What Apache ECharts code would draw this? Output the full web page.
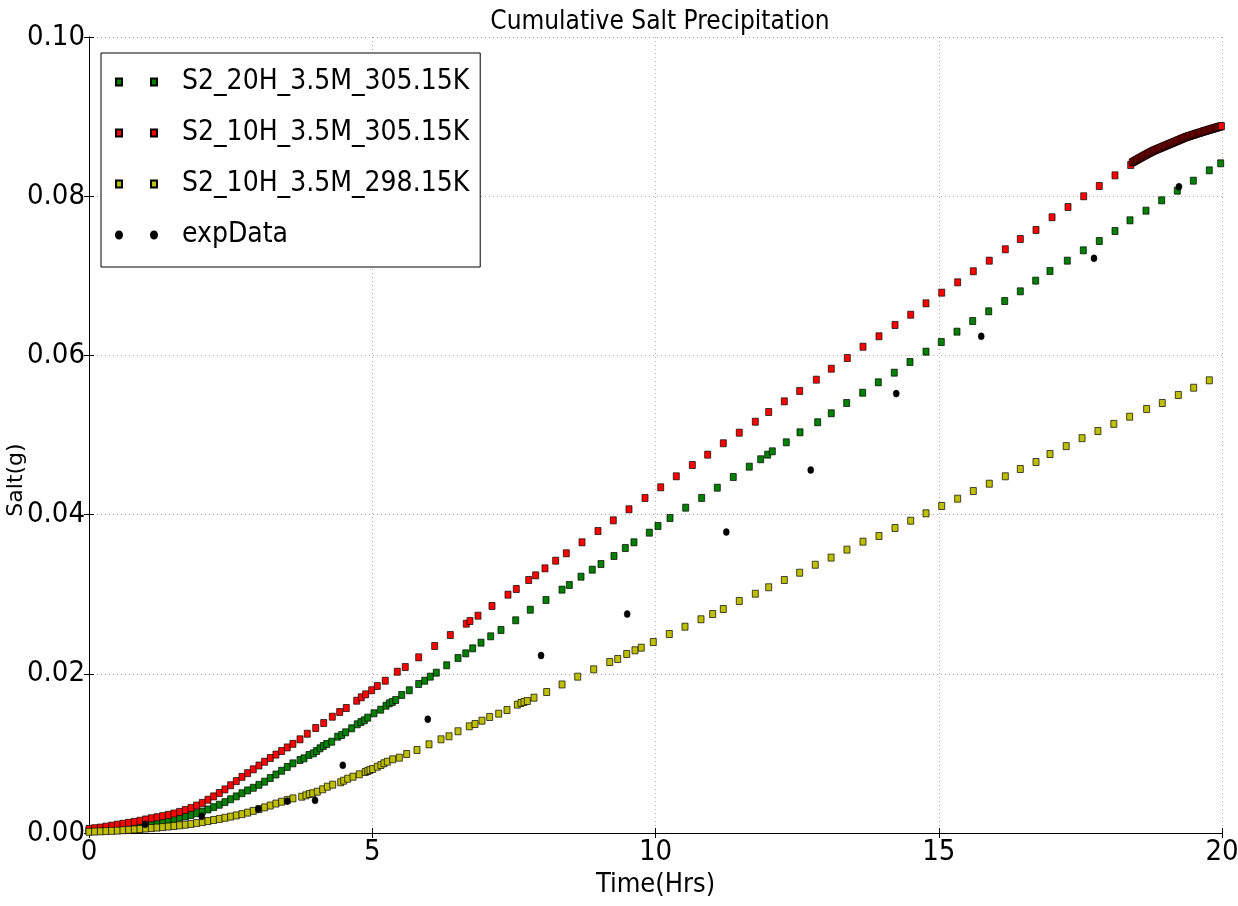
<!DOCTYPE html>
<html>
<head>
<meta charset="utf-8">
<script src="https://cdn.jsdelivr.net/npm/echarts@6/dist/echarts.min.js"></script>
<style>
html,body{margin:0;padding:0;background:#fff;}
#chart{width:1238px;height:906px;}
</style>
</head>
<body>
<div id="chart"></div>
<script>
// ---- data: [time (hrs), salt (g)] ----
const seriesNames = ['S2_20H_3.5M_305.15K', 'S2_10H_3.5M_305.15K', 'S2_10H_3.5M_298.15K', 'expData'];
const xTickLabels = ['0', '5', '10', '15', '20'];
const yTickLabels = ['0.00', '0.02', '0.04', '0.06', '0.08', '0.10'];

const green20H = [
[0.0,0.00030],[0.1,0.00036],[0.2,0.00044],[0.3,0.00052],[0.4,0.00060],[0.5,0.00070],[0.6,0.00078],[0.7,0.00086],[0.8,0.00095],[0.9,0.00104],
[1.0,0.00113],[1.1,0.00122],[1.2,0.00135],[1.3,0.00148],[1.4,0.00163],[1.5,0.00178],[1.6,0.00193],[1.7,0.00208],[1.8,0.00226],[1.9,0.00248],
[2.0,0.00270],[2.1,0.00296],[2.2,0.00325],[2.3,0.00355],[2.4,0.00388],[2.5,0.00424],[2.6,0.00460],[2.7,0.00500],[2.8,0.00535],[2.9,0.00568],
[3.0,0.00605],[3.1,0.00645],[3.2,0.00690],[3.3,0.00735],[3.4,0.00782],[3.5,0.00830],[3.6,0.00875],
[3.725,0.00917],[3.795,0.00938],[3.883,0.00980],[3.960,0.01001],[4.019,0.01030],[4.078,0.01064],[4.136,0.01093],[4.196,0.01118],
[4.284,0.01147],[4.390,0.01210],[4.461,0.01231],[4.531,0.01265],[4.637,0.01315],[4.736,0.01366],[4.801,0.01394],[4.860,0.01416],
[4.920,0.01449],[5.031,0.01504],[5.149,0.01549],[5.243,0.01599],[5.301,0.01629],[5.354,0.01646],[5.414,0.01671],[5.520,0.01734],
[5.654,0.01793],[5.820,0.01872],[5.926,0.01913],[6.025,0.01964],[6.131,0.02014],[6.314,0.02107],[6.514,0.02198],[6.650,0.02257],
[6.773,0.02320],[6.920,0.02391],[7.091,0.02471],[7.273,0.02550],[7.532,0.02672],[7.790,0.02805],[8.067,0.02927],
[8.350,0.03057],[8.479,0.03116],[8.685,0.03220],[8.884,0.03308],[9.038,0.03379],[9.267,0.03480],[9.467,0.03580],[9.620,0.03652],
[9.891,0.03773],[10.044,0.03857],[10.256,0.03957],[10.533,0.04087],[10.815,0.04209],[11.091,0.04338],[11.373,0.04472],[11.656,0.04602],
[11.857,0.04695],[11.980,0.04753],[12.062,0.04795],[12.309,0.04908],[12.551,0.05034],
[12.863,0.05160],[13.103,0.05273],[13.375,0.05402],[13.657,0.05531],[13.933,0.05662],[14.215,0.05783],[14.492,0.05917],[14.775,0.06047],
[15.045,0.06168],[15.322,0.06298],[15.599,0.06432],[15.882,0.06554],[16.164,0.06683],[16.440,0.06805],[16.711,0.06939],[16.964,0.07060],
[17.269,0.07190],[17.552,0.07320],[17.834,0.07437],[18.111,0.07563],[18.376,0.07697],[18.658,0.07818],[18.935,0.07948],[19.211,0.08069],
[19.494,0.08195],[19.776,0.08325],[19.977,0.08413]
];

const red10H305 = [
[0.0,0.00050],[0.1,0.00060],[0.2,0.00068],[0.3,0.00080],[0.4,0.00092],[0.5,0.00105],[0.6,0.00116],[0.7,0.00128],[0.8,0.00140],[0.9,0.00154],
[1.0,0.00170],[1.1,0.00185],[1.2,0.00198],[1.3,0.00212],[1.4,0.00228],[1.5,0.00245],[1.6,0.00265],[1.7,0.00288],[1.8,0.00315],[1.9,0.00345],
[2.0,0.00378],[2.1,0.00418],[2.2,0.00460],[2.3,0.00502],[2.4,0.00548],[2.5,0.00600],[2.6,0.00652],[2.7,0.00705],[2.8,0.00752],[2.9,0.00800],
[3.0,0.00848],[3.1,0.00895],[3.2,0.00942],[3.3,0.00985],[3.4,0.01030],[3.5,0.01075],[3.6,0.01120],
[3.725,0.01177],[3.853,0.01247],[4.002,0.01319],[4.143,0.01382],[4.295,0.01461],[4.425,0.01520],[4.542,0.01570],[4.726,0.01662],
[4.807,0.01705],[4.884,0.01742],[4.990,0.01793],[5.089,0.01847],[5.230,0.01913],[5.442,0.02026],[5.583,0.02085],[5.820,0.02207],
[6.102,0.02349],[6.378,0.02487],[6.660,0.02629],[6.725,0.02663],[6.867,0.02730],[7.114,0.02852],[7.396,0.02994],[7.543,0.03065],
[7.762,0.03178],[7.885,0.03237],[8.049,0.03325],
[8.238,0.03421],[8.426,0.03514],[8.703,0.03652],[8.985,0.03794],[9.255,0.03928],[9.532,0.04067],[9.815,0.04209],[10.092,0.04343],
[10.367,0.04481],[10.650,0.04623],[10.921,0.04753],[11.197,0.04896],[11.479,0.05029],[11.762,0.05167],[11.998,0.05289],[12.274,0.05423],
[12.545,0.05553],
[12.839,0.05695],[13.103,0.05833],[13.386,0.05967],[13.663,0.06109],[13.945,0.06240],[14.228,0.06382],[14.505,0.06511],[14.775,0.06654],
[15.052,0.06788],[15.334,0.06918],[15.610,0.07057],[15.892,0.07190],[16.175,0.07333],[16.440,0.07462],[16.717,0.07576],
[17.000,0.07735],[17.282,0.07864],[17.559,0.07999],[17.834,0.08128],[18.111,0.08262],[18.388,0.08392],
[18.415,0.08424],[18.430,0.08430],[18.445,0.08437],[18.460,0.08443],[18.475,0.08449],[18.490,0.08455],[18.505,0.08461],[18.520,0.08467],
[18.535,0.08473],[18.550,0.08479],[18.565,0.08485],[18.580,0.08491],[18.595,0.08497],[18.610,0.08503],[18.625,0.08509],[18.640,0.08515],
[18.655,0.08520],[18.670,0.08526],[18.685,0.08532],[18.700,0.08538],[18.715,0.08543],[18.730,0.08549],[18.745,0.08554],[18.760,0.08560],
[18.775,0.08565],[18.790,0.08571],[18.805,0.08575],[18.820,0.08580],[18.835,0.08584],[18.850,0.08589],[18.865,0.08593],[18.880,0.08598],
[18.895,0.08602],[18.910,0.08607],[18.925,0.08611],[18.940,0.08616],[18.955,0.08620],[18.970,0.08625],[18.985,0.08629],[19.000,0.08634],
[19.015,0.08638],[19.030,0.08643],[19.045,0.08647],[19.060,0.08652],[19.075,0.08656],[19.090,0.08661],[19.105,0.08665],[19.120,0.08670],
[19.135,0.08674],[19.150,0.08679],[19.165,0.08683],[19.180,0.08688],[19.195,0.08692],[19.210,0.08697],[19.225,0.08701],[19.240,0.08706],
[19.255,0.08710],[19.270,0.08715],[19.285,0.08719],[19.300,0.08724],[19.315,0.08728],[19.330,0.08733],[19.345,0.08737],[19.360,0.08742],
[19.375,0.08745],[19.390,0.08748],[19.405,0.08752],[19.420,0.08755],[19.435,0.08759],[19.450,0.08762],[19.465,0.08766],[19.480,0.08769],
[19.495,0.08773],[19.510,0.08776],[19.525,0.08780],[19.540,0.08783],[19.555,0.08787],[19.570,0.08790],[19.585,0.08794],[19.600,0.08797],
[19.615,0.08800],[19.630,0.08803],[19.645,0.08807],[19.660,0.08810],[19.675,0.08814],[19.690,0.08817],[19.705,0.08820],[19.720,0.08823],
[19.735,0.08827],[19.750,0.08830],[19.765,0.08833],[19.780,0.08836],[19.795,0.08840],[19.810,0.08843],[19.825,0.08846],[19.840,0.08849],
[19.855,0.08852],[19.870,0.08855],[19.885,0.08859],[19.900,0.08862],[19.915,0.08865],[19.930,0.08868],[19.945,0.08871],[19.960,0.08874],
[19.975,0.08877],[19.990,0.08880]
];

const yellow10H298 = [
[0.0,0.00015],[0.1,0.00018],[0.2,0.00021],[0.3,0.00024],[0.4,0.00027],[0.5,0.00030],[0.6,0.00035],[0.7,0.00040],[0.8,0.00045],[0.9,0.00050],
[1.0,0.00056],[1.1,0.00062],[1.2,0.00068],[1.3,0.00074],[1.4,0.00081],[1.5,0.00088],[1.6,0.00096],[1.7,0.00104],[1.8,0.00114],[1.9,0.00125],
[2.0,0.00137],[2.1,0.00150],[2.2,0.00163],[2.3,0.00177],[2.4,0.00191],[2.5,0.00206],[2.6,0.00221],[2.7,0.00237],[2.8,0.00256],[2.9,0.00278],
[3.0,0.00300],[3.1,0.00322],[3.2,0.00345],[3.3,0.00370],[3.4,0.00393],[3.5,0.00415],[3.6,0.00435],
[3.754,0.00456],[3.830,0.00473],[3.889,0.00490],[3.949,0.00499],[4.030,0.00519],[4.125,0.00549],[4.207,0.00582],[4.302,0.00607],
[4.443,0.00637],[4.496,0.00657],[4.567,0.00682],[4.660,0.00707],[4.772,0.00737],[4.877,0.00766],[4.920,0.00779],[4.960,0.00791],
[5.008,0.00804],[5.089,0.00833],[5.154,0.00854],[5.207,0.00876],[5.266,0.00896],[5.361,0.00926],[5.478,0.00946],[5.608,0.00992],
[5.790,0.01043],[6.002,0.01114],[6.214,0.01177],[6.355,0.01215],[6.514,0.01278],[6.713,0.01340],[6.814,0.01369],[6.937,0.01411],
[7.073,0.01457],[7.232,0.01499],[7.379,0.01545],[7.561,0.01612],[7.626,0.01633],[7.679,0.01646],[7.737,0.01658],[7.855,0.01700],
[8.079,0.01771],[8.350,0.01866],
[8.627,0.01964],[8.909,0.02056],[9.192,0.02148],[9.333,0.02186],[9.492,0.02249],[9.638,0.02295],[9.749,0.02328],[9.961,0.02399],
[10.244,0.02500],[10.521,0.02592],[10.803,0.02685],[11.009,0.02751],[11.197,0.02814],[11.479,0.02915],[11.762,0.03006],[11.998,0.03087],
[12.274,0.03178],[12.545,0.03270],[12.82,0.03370],[13.10,0.03460],[13.38,0.03560],
[13.663,0.03660],[13.945,0.03731],[14.228,0.03832],[14.505,0.03923],[14.775,0.04016],[15.052,0.04108],[15.334,0.04200],[15.610,0.04296],
[15.892,0.04388],[16.175,0.04481],[16.440,0.04573],[16.717,0.04661],[16.964,0.04761],
[17.25,0.04860],[17.53,0.04960],[17.81,0.05050],[18.09,0.05140],[18.37,0.05230],
[18.670,0.05327],[18.946,0.05402],[19.229,0.05503],[19.500,0.05594],[19.776,0.05687]
];

const expData = [
[0.99,0.0011],[1.99,0.0021],[2.99,0.0030],[3.50,0.0040],[3.99,0.0041],[4.48,0.0085],[5.98,0.0143],[7.98,0.0223],
[9.50,0.0275],[11.25,0.0378],[12.74,0.0456],[14.25,0.0552],[15.75,0.0624],[17.74,0.0722],[19.24,0.0812]
];

// ---- chart ----
const narrow = '"Liberation Sans Narrow", "DejaVu Sans Condensed", "Liberation Sans", sans-serif';
const chart = echarts.init(document.getElementById('chart'), null, {renderer: 'canvas'});
const sqIcon = 'path://M0,0h6v7h-6zM35,0h6v7h-6z';
const dotIcon = 'path://M3,0a3,3.5 0 1,1 0,7a3,3.5 0 1,1 0,-7zM38,0a3,3.5 0 1,1 0,7a3,3.5 0 1,1 0,-7z';

function sq(name, data, color) {
  return {
    name: name, type: 'scatter', data: data, symbol: 'rect', symbolSize: [6, 7],
    itemStyle: {color: color, borderColor: '#000', borderWidth: 0.7, opacity: 1},
    emphasis: {disabled: true}
  };
}

chart.setOption({
  animation: false,
  backgroundColor: '#fff',
  title: {
    text: 'Cumulative Salt Precipitation',
    left: 655, top: 4, textAlign: 'center',
    textStyle: {fontFamily: narrow, fontSize: 26, fontWeight: 'normal', color: '#000'}
  },
  grid: {left: 89, right: 16, top: 37, bottom: 73, outerBoundsMode: 'none', containLabel: false},
  legend: {
    orient: 'vertical', left: 101, top: 53,
    padding: [9, 11, 12, 14], itemGap: 11, itemWidth: 41, itemHeight: 7,
    borderColor: '#000', borderWidth: 1, backgroundColor: '#fff',
    textStyle: {fontFamily: narrow, fontSize: 28, color: '#000', lineHeight: 40, padding: [0, 0, 0, 20]},
    data: [
      {name: seriesNames[0], icon: sqIcon},
      {name: seriesNames[1], icon: sqIcon},
      {name: seriesNames[2], icon: sqIcon},
      {name: seriesNames[3], icon: dotIcon}
    ]
  },
  xAxis: [{
    type: 'value', min: 0, max: 20, interval: 5,
    name: 'Time(Hrs)', nameLocation: 'middle', nameGap: 38, nameMoveOverlap: false,
    nameTextStyle: {fontFamily: narrow, fontSize: 27, color: '#000'},
    axisLine: {lineStyle: {color: '#000', width: 1}},
    axisTick: {inside: true, length: 5, lineStyle: {color: '#000'}},
    axisLabel: {fontFamily: narrow, fontSize: 29, color: '#000', margin: 5,
      formatter: v => xTickLabels[Math.round(v / 5)]},
    splitLine: {show: true, lineStyle: {color: '#aaa', type: [1, 3], width: 1}}
  }, {
    type: 'value', min: 0, max: 20, interval: 5, position: 'top',
    axisLine: {lineStyle: {color: '#000', width: 1}},
    axisTick: {inside: true, length: 5, lineStyle: {color: '#000'}},
    axisLabel: {show: false}, splitLine: {show: false}
  }],
  yAxis: [{
    type: 'value', min: 0, max: 0.1, interval: 0.02,
    name: 'Salt(g)', nameLocation: 'middle', nameGap: 62, nameRotate: 90, nameMoveOverlap: false,
    nameTextStyle: {fontFamily: '"DejaVu Sans", sans-serif', fontSize: 22, color: '#000', padding: [0, 90, 0, 0]},
    axisLine: {show: true, lineStyle: {color: '#000', width: 1}},
    axisTick: {show: true, inside: true, length: 5, lineStyle: {color: '#000'}},
    axisLabel: {fontFamily: narrow, fontSize: 29, color: '#000', margin: 4,
      formatter: v => yTickLabels[Math.round(v / 0.02)]},
    splitLine: {show: true, lineStyle: {color: '#aaa', type: [1, 3], width: 1}}
  }, {
    type: 'value', min: 0, max: 0.1, interval: 0.02, position: 'right',
    axisLine: {show: true, lineStyle: {color: '#000', width: 1}},
    axisTick: {show: true, inside: true, length: 5, lineStyle: {color: '#000'}},
    axisLabel: {show: false}, splitLine: {show: false}
  }],
  series: [
    sq(seriesNames[0], green20H, '#008000'),
    sq(seriesNames[1], red10H305, '#ff0000'),
    sq(seriesNames[2], yellow10H298, '#bfbf00'),
    {
      name: seriesNames[3], type: 'scatter', data: expData, symbol: 'circle', symbolSize: [6, 7],
      itemStyle: {color: '#000', borderColor: '#000', borderWidth: 0.5, opacity: 1},
      emphasis: {disabled: true}
    }
  ]
});
</script>
</body>
</html>
